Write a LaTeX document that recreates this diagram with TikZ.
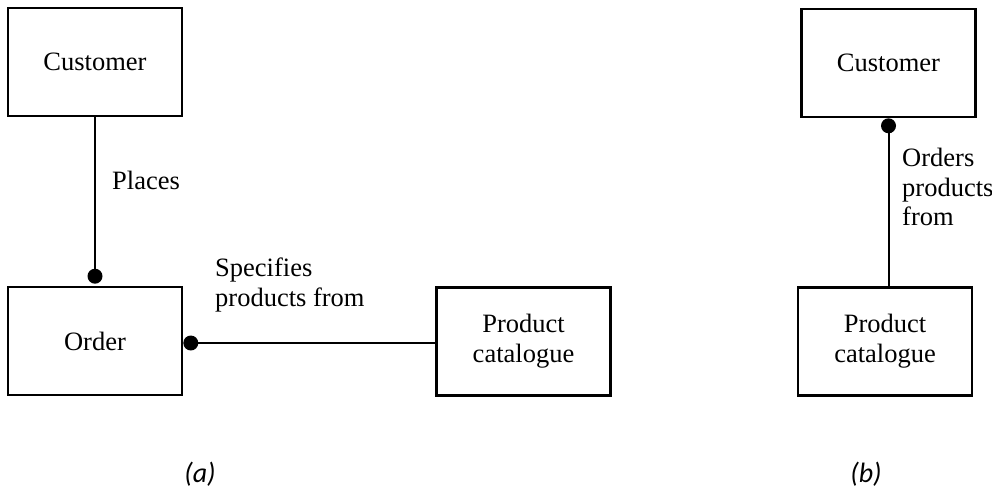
\documentclass[tikz,border=0pt]{standalone}
\usepackage{fontspec}
\setmainfont{Liberation Serif}
\newfontfamily\captionfont{Carlito}
\begin{document}
\begin{tikzpicture}[x=1pt,y=-1pt,
  entity/.style={draw,line width=2.2pt,minimum width=174pt,minimum height=108pt,
    inner sep=0pt,align=center,font=\fontsize{26.5}{30}\selectfont},
  rel/.style={line width=2pt},
  blob/.style={circle,fill=black,inner sep=0pt,minimum size=15pt},
  lbl/.style={inner sep=0pt,anchor=west,align=left,font=\fontsize{26.5}{29.5}\selectfont},
  partlabel/.style={inner sep=0pt,font=\captionfont\itshape\fontsize{28}{30}\selectfont}]
\useasboundingbox (0,0) rectangle (992,488);

% part (a)
\node[entity] (custA) at (95,62) {Customer};
\node[entity] (order) at (95,341) {Order};
\node[entity] (prodA) at (523.5,341.5) {Product\\catalogue};
\node[blob,anchor=south] (dotTop) at ([yshift=2pt]order.north) {};
\node[blob,anchor=west] (dotSide) at ([yshift=-2pt]order.east) {};
\draw[rel] (custA.south) -- (dotTop.center);
\draw[rel] (dotSide.center) -- (dotSide.center -| prodA.west);
\node[lbl] (places) at (112,180) {Places};
\node[lbl] (specifies) at (215,285) {Specifies\\products from};
\node[partlabel] (capA) at (200,474) {(a)};

% part (b)
\node[entity] (custB) at (888.5,63) {Customer};
\node[entity] (prodB) at (885,341.5) {Product\\catalogue};
\node[blob,anchor=north] (dotB) at (custB.south) {};
\draw[rel] (dotB.center) -- (dotB.center |- prodB.north);
\node[lbl] (orders) at (902,187) {Orders\\products\\from};
\node[partlabel] (capB) at (866,474) {(b)};
\end{tikzpicture}
\end{document}
